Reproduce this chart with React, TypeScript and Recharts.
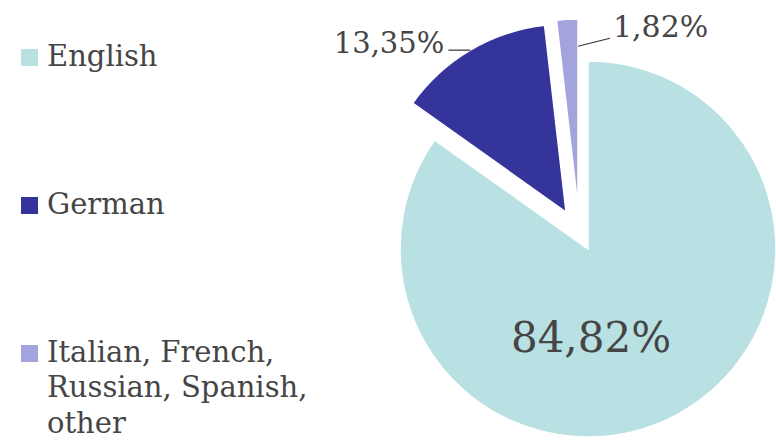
import React from "react";
import { PieChart, Pie, Cell } from "recharts";

const categories = ["English", "German", "Italian, French, Russian, Spanish, other"];
const shares = [84.82, 13.35, 1.82];
const shareLabels = ["84,82%", "13,35%", "1,82%"];
const colors = ["#b9e0e3", "#35349a", "#a3a3de"];

const data = categories.map((name, i) => ({ name, value: shares[i] }));

const FONT = "Georgia, 'DejaVu Serif', serif";
const TEXT = "#454545";
const RAD = Math.PI / 180;
const R = 188;

const polar = (cx: number, cy: number, r: number, a: number) => ({
  x: cx + r * Math.cos(-a * RAD),
  y: cy + r * Math.sin(-a * RAD),
});

const makeLabel = (owner: number) => (p: any) => {
  if (p.index !== owner) return null;
  const { cx, cy, midAngle, outerRadius, endAngle } = p;
  if (owner === 0) {
    return (
      <text x={cx + 3} y={cy + 88} textAnchor="middle" dominantBaseline="central"
        fontFamily={FONT} fontSize={42} fill={TEXT}>
        {shareLabels[0]}
      </text>
    );
  }
  if (owner === 1) {
    const s = polar(cx, cy, outerRadius, midAngle);
    const ex = s.x - 22;
    return (
      <g>
        <path d={`M${s.x},${s.y}L${ex},${s.y}`} stroke="#333" strokeWidth={1.2} fill="none" />
        <text x={ex - 4} y={s.y + 3} textAnchor="end" fontFamily={FONT} fontSize={29} fill={TEXT}>
          {shareLabels[1]}
        </text>
      </g>
    );
  }
  const s = polar(cx, cy, outerRadius * 0.855, endAngle);
  const e = { x: s.x + 32, y: s.y - 8 };
  return (
    <g>
      <path d={`M${s.x},${s.y}L${e.x},${e.y}`} stroke="#333" strokeWidth={1.2} fill="none" />
      <text x={e.x + 3} y={e.y - 1} textAnchor="start" fontFamily={FONT} fontSize={30} fill={TEXT}>
        {shareLabels[2]}
      </text>
    </g>
  );
};

const pieCenters = [
  { cx: 588, cy: 249 },
  { cx: 566, cy: 212 },
  { cx: 578, cy: 207 },
];

export default function App() {
  return (
    <div style={{ position: "absolute", left: 0, top: 0, width: 776, height: 440, background: "#fff" }}>
      <PieChart width={776} height={440} margin={{ top: 0, right: 0, bottom: 0, left: 0 }}>
        {pieCenters.map((c, owner) => (
          <Pie
            key={owner}
            data={data}
            dataKey="value"
            nameKey="name"
            cx={c.cx}
            cy={c.cy}
            innerRadius={0}
            outerRadius={R}
            startAngle={90}
            endAngle={-270}
            isAnimationActive={false}
            label={makeLabel(owner)}
            labelLine={false}
          >
            {data.map((_, i) => (
              <Cell
                key={i}
                fill={i === owner ? colors[i] : "none"}
                stroke={i === owner ? "#ffffff" : "none"}
                strokeWidth={i === owner ? 1.5 : 0}
              />
            ))}
          </Pie>
        ))}
      </PieChart>
      {categories.map((name, i) => (
        <div
          key={name}
          style={{
            position: "absolute",
            left: 21,
            top: 38.5 + i * 148,
            width: 330,
            display: "flex",
            alignItems: "flex-start",
            fontFamily: FONT,
            fontSize: 29,
            lineHeight: "35.5px",
            color: TEXT,
          }}
        >
          <span style={{ display: "inline-block", width: 17, height: 17, background: colors[i], marginTop: 10, marginRight: 9, flex: "none" }} />
          <span style={{ width: 300 }}>{name}</span>
        </div>
      ))}
    </div>
  );
}
